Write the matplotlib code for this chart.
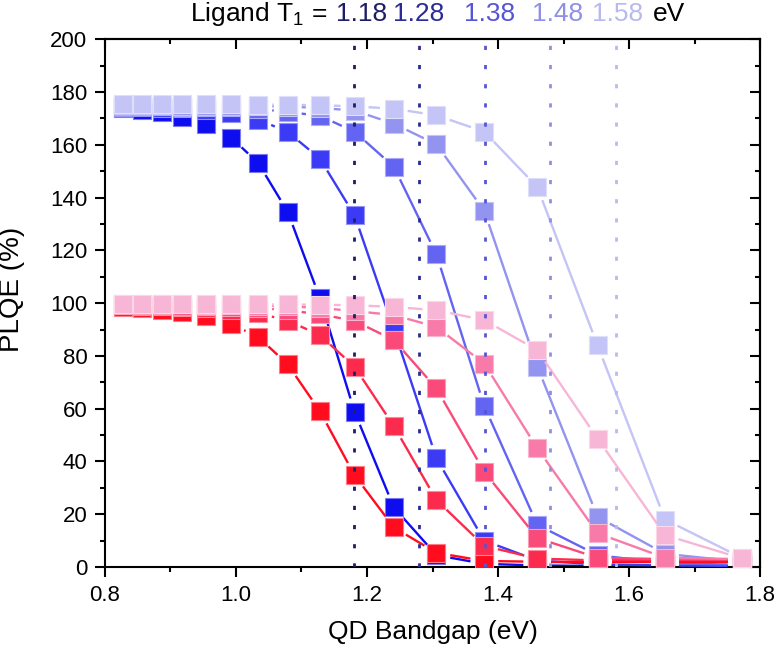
import numpy as np
import matplotlib
matplotlib.use("Agg")
import matplotlib.pyplot as plt
from matplotlib.collections import LineCollection
from matplotlib.colors import to_rgb
from matplotlib.ticker import MultipleLocator, FormatStrFormatter

plt.rcParams['font.family'] = ['Liberation Sans', 'DejaVu Sans']
plt.rcParams['mathtext.default'] = 'regular'

# QD bandgap (eV) of every point
bandgap = [0.827, 0.856, 0.887, 0.918, 0.954, 0.993, 1.034, 1.079, 1.128,
           1.181, 1.241, 1.306, 1.379, 1.460, 1.552, 1.655, 1.772]

# ligand triplet energies (eV)
ligand_t1 = [1.18, 1.28, 1.38, 1.48, 1.58]

# upper set (blue), PLQE %
blue_118 = [174.0, 173.2, 172.3, 170.5, 167.8, 162.7, 153.1, 134.6, 102.0, 58.8, 22.6, 4.5, 1.2, 0.6, 0.4, 0.3, 0.3]
blue_128 = [174.5, 174.3, 174.1, 173.8, 173.3, 172.0, 169.6, 164.9, 154.8, 133.3, 90.0, 41.2, 10.0, 2.5, 1.0, 0.6, 0.4]
blue_138 = [174.8, 174.7, 174.6, 174.5, 174.4, 174.2, 173.6, 172.5, 171.0, 165.0, 151.7, 118.5, 61.0, 16.0, 4.5, 1.5, 0.8]
blue_148 = [175.1, 175.0, 175.0, 174.9, 174.9, 174.8, 174.7, 174.5, 174.0, 173.0, 168.0, 160.2, 135.0, 76.0, 19.0, 5.0, 2.0]
blue_158 = [175.5, 175.5, 175.5, 175.5, 175.4, 175.4, 175.3, 175.2, 175.0, 174.6, 173.7, 171.2, 165.0, 144.0, 84.0, 18.0, 3.5]

# lower set (red), PLQE %
red_118 = [98.7, 98.1, 97.5, 96.6, 95.2, 92.0, 87.2, 76.8, 59.1, 34.8, 15.0, 5.4, 2.3, 2.0, 2.0, 2.0, 2.0]
red_128 = [99.2, 99.0, 98.8, 98.5, 98.1, 97.5, 96.2, 93.4, 87.9, 75.9, 53.4, 25.4, 8.0, 3.2, 2.5, 2.5, 2.5]
red_138 = [99.4, 99.3, 99.2, 99.1, 99.0, 98.7, 98.2, 97.3, 95.8, 93.3, 86.0, 67.7, 36.1, 11.0, 3.5, 3.0, 2.8]
red_148 = [99.6, 99.6, 99.5, 99.5, 99.4, 99.3, 99.1, 98.8, 98.2, 97.0, 95.5, 91.0, 77.1, 45.0, 12.8, 3.5, 3.0]
red_158 = [99.8, 99.8, 99.8, 99.8, 99.8, 99.7, 99.6, 99.5, 99.4, 99.2, 98.6, 97.3, 93.6, 82.2, 48.7, 12.1, 3.3]

blue_sets = [blue_118, blue_128, blue_138, blue_148, blue_158]
red_sets = [red_118, red_128, red_138, red_148, red_158]

blue_colors = ['#0d0df0', '#3b3bf5', '#6464f2', '#9393f0', '#c4c4f7']
red_colors = ['#ff0d1f', '#fc2a4c', '#fa4a7a', '#f87aa8', '#f8b6d6']
t1_colors = ['#1e1e66', '#2b2b96', '#5555d6', '#8f8fe6', '#b9b9f0']


def lighten(c, f=0.45):
    r, g, b = to_rgb(c)
    return (r + (1 - r) * f, g + (1 - g) * f, b + (1 - b) * f)


# line that stops short of each symbol (Origin style gap)
def gapped_line(ax, x, y, color, gap_px, z):
    pts = ax.transData.transform(np.column_stack([x, y]))
    segs = []
    for p0, p1 in zip(pts[:-1], pts[1:]):
        d = p1 - p0
        L = np.hypot(d[0], d[1])
        if L <= 2 * gap_px + 1:
            continue
        u = d / L
        seg = np.array([p0 + u * gap_px, p1 - u * gap_px])
        segs.append(ax.transData.inverted().transform(seg))
    ax.add_collection(LineCollection(segs, colors=[color], linewidths=1.7, zorder=z))


fig = plt.figure(figsize=(7.76, 6.49), dpi=100)
ax = fig.add_axes([0.1353, 0.1263, 0.8441, 0.8131])
ax.set_xlim(0.8, 1.8)
ax.set_ylim(0, 200)

z = 2
for sets, cols in [(blue_sets, blue_colors), (red_sets, red_colors)]:
    for vals, c in zip(sets, cols):
        gapped_line(ax, bandgap, vals, c, 14, z)
        ax.plot(bandgap, vals, linestyle='none', marker='s', ms=12.3,
                mfc=c, mec=lighten(c), mew=0.8, zorder=z + 0.5)
        z += 1

# dotted lines at the ligand T1 energies
for t, c in zip(ligand_t1, t1_colors):
    ax.axvline(t, color=c, lw=2.0, linestyle=(0, (1.5, 5.4)), zorder=50)

ax.xaxis.set_major_locator(MultipleLocator(0.2))
ax.xaxis.set_minor_locator(MultipleLocator(0.1))
ax.yaxis.set_major_locator(MultipleLocator(20))
ax.yaxis.set_minor_locator(MultipleLocator(10))
ax.xaxis.set_major_formatter(FormatStrFormatter('%.1f'))
ax.tick_params(which='major', direction='out', length=7.2, width=1.5, labelsize=16, pad=5.5)
ax.tick_params(which='minor', direction='out', length=3.6, width=1.5)
for s in ax.spines.values():
    s.set_linewidth(1.5)

# inward ticks on the top and right frame
top = ax.secondary_xaxis('top')
top.xaxis.set_major_locator(MultipleLocator(0.2))
top.xaxis.set_minor_locator(MultipleLocator(0.1))
top.tick_params(which='major', direction='in', length=7.2, width=1.5, labeltop=False)
top.tick_params(which='minor', direction='in', length=3.6, width=1.5)
top.spines['top'].set_linewidth(1.5)
right = ax.secondary_yaxis('right')
right.yaxis.set_major_locator(MultipleLocator(20))
right.yaxis.set_minor_locator(MultipleLocator(10))
right.tick_params(which='major', direction='in', length=7.2, width=1.5, labelright=False)
right.tick_params(which='minor', direction='in', length=3.6, width=1.5)
right.spines['right'].set_linewidth(1.5)

ax.set_xlabel('QD Bandgap (eV)', fontsize=19)
ax.set_ylabel('PLQE (%)', fontsize=20)
ax.xaxis.set_label_coords(0.5, -0.100)
ax.yaxis.set_label_coords(-0.122, 0.527)

# coloured title row
title_y = 0.968
num_x = [362, 419, 490, 558, 618]
fig.text(327 / 776, title_y, 'Ligand T$_1$ =', ha='right', va='baseline', fontsize=19)
for t, c, px in zip(ligand_t1, t1_colors, num_x):
    fig.text(px / 776, title_y, f'{t:.2f}', color=c, ha='center', va='baseline', fontsize=19)
fig.text(653 / 776, title_y, 'eV', ha='left', va='baseline', fontsize=19)

fig.savefig('out.png', dpi=100)
